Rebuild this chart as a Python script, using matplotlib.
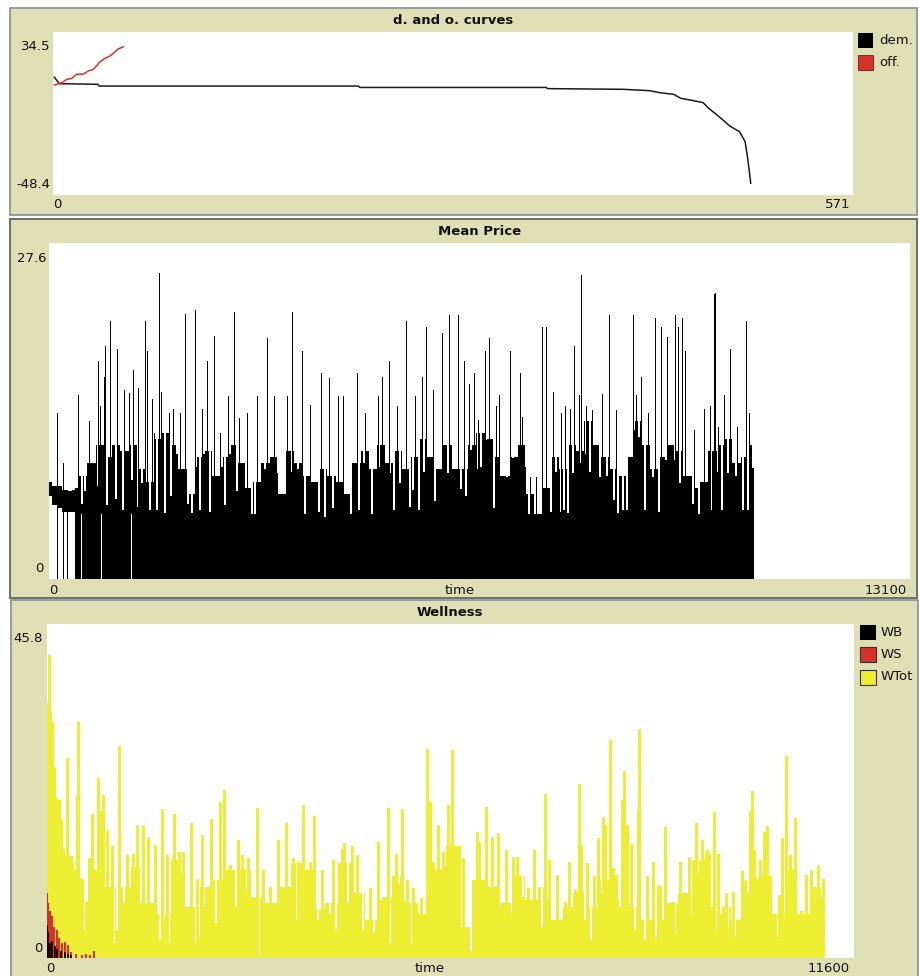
import numpy as np
import matplotlib
matplotlib.use("Agg")
import matplotlib.pyplot as plt
from matplotlib.patches import Rectangle

W, H = 920, 976
BEIGE = "#DFDFB6"
EDGE = "#8C8C8C"
RED = "#D73229"
YELLOW = "#EDED31"
PX = 0.72  # one pixel in points at 100 dpi

# ---- d. and o. curves ----
dem_x = [1, 4.5, 32, 33, 218, 219, 352, 353, 407, 426, 433, 443, 448, 457, 464, 468, 476, 483, 490, 494, 496, 498]
dem_y = [11.5, 8.2, 7.9, 7.0, 7.0, 6.3, 6.3, 5.7, 5.35, 4.65, 3.65, 2.8, 0.8, -0.4, -1.4, -4.3, -8.9, -13.3, -16.2, -21.3, -30.6, -42.4]
off_x = [1, 6.2, 9.8, 13.3, 16.9, 21.7, 25.2, 28.8, 31.2, 33.6, 37.1, 40.7, 44.3, 46.6, 50.2]
off_y = [7.5, 8.7, 10.4, 10.9, 13.0, 13.1, 14.7, 15.5, 17.4, 19.4, 21.1, 22.3, 24.5, 25.9, 27.0]

# ---- Mean Price ----
mp_early_t = [0, 15, 91, 167, 243, 320, 395]
mp_early_lo = [6.8, 6.8, 6.1, 5.8, 5.5, 5.5, 5.5]
mp_early_hi = [7.6, 8.0, 7.6, 7.6, 7.3, 7.2, 7.3]
mp_base = [7.5, 8.5, 9.5, 11, 10, 11, 10.5, 11, 9, 8, 11.5, 12, 11, 9, 7, 10, 10.5, 8.5, 10, 11,
           9.5, 7.5, 8, 9.5, 10, 7, 10.5, 9.5, 8.5, 8, 9, 8.5, 8, 7, 9.5, 10.5, 9, 11, 9.5, 10.5,
           9, 10, 11.5, 10, 9, 11, 9,
           9, 11, 12, 11.5, 10, 8.5, 10, 11, 7, 5.3, 7.5, 10, 9, 11, 10.5, 13, 11, 10, 9, 8.5,
           10, 13, 11, 9, 10, 11, 10.5, 8.5, 7.5, 8, 10.5, 11, 11.5, 9.5, 10, 11]
mp_base_t = np.linspace(395, 10724, len(mp_base))
mp_spike_t = [127, 218, 446, 608, 740, 776, 842, 852, 933, 1039, 1146, 1222, 1283, 1349, 1460, 1485,
              1562, 1597, 1678, 1709, 1830, 1881, 1993, 2069, 2216, 2322, 2398, 2510, 2601, 2718,
              2814, 2895, 3007, 3159, 3311, 3428, 3625, 3691, 3843, 3965, 4137, 4264, 4401, 4477,
              4690, 4807, 5004, 5070, 5171, 5298, 5430, 5562, 5668, 5734, 5835, 5972, 6079, 6226,
              6308, 6389, 6460, 6526, 6627, 6693, 6795, 6840, 7008, 7160, 7200, 7322, 7413, 7499,
              7565, 7667, 7793, 7844, 7920, 7991, 8057, 8092, 8163, 8265, 8417, 8518, 8630, 8883,
              8934, 9010, 9117, 9223, 9309, 9400, 9522, 9563, 9629, 9674, 9821, 9973, 10050,
              10115, 10136, 10181, 10267, 10354, 10470, 10607, 10658, 10709]
mp_spike_v = [13.6, 9.5, 15.1, 13.0, 17.9, 14.2, 16.6, 19.1, 21.2, 18.9, 15.5, 15.3, 17.2, 15.7, 21.2, 18.7,
              14.8, 12.0, 25.1, 15.4, 13.6, 14.0, 13.6, 21.8, 22.1, 14.0, 17.9, 20.0, 12.0, 15.0,
              21.9, 13.2, 13.6, 15.0, 19.8, 15.0, 15.0, 21.9, 18.7, 14.3, 16.9, 16.5, 15.0, 15.0,
              16.9, 13.6, 15.0, 16.6, 17.9, 14.2, 21.2, 15.0, 16.6, 20.7, 15.5, 20.2, 21.7, 21.7,
              17.9, 16.0, 16.9, 13.1, 18.7, 19.8, 14.2, 15.1, 18.7, 16.9, 13.3, 8.4, 8.4, 20.7,
              20.7, 15.4, 13.6, 14.2, 14.0, 19.1, 15.1, 25.0, 14.2, 13.9, 15.2, 21.7, 13.9, 21.7,
              15.1, 16.6, 13.6, 21.4, 20.7, 19.9, 21.7, 20.7, 21.4, 18.7, 12.2, 14.0, 14.2,
              23.4, 23.5, 12.5, 15.1, 18.9, 12.5, 21.2, 13.6, 9.1]
# white notches cut into the dense black area: time and depth reached
mp_gap_t = [507, 548, 750, 877, 1014, 1131, 1268, 1359, 1409, 1536, 1587, 1638, 1764, 1856, 1942,
            1993, 2119, 2170, 2231, 2297, 2363, 2449, 2525, 2626, 2677, 2753, 2854, 2930, 2981,
            3083, 3133, 3209, 3285, 3387, 3488, 3564,
            3590, 3699, 3785, 3902, 4023, 4105, 4206, 4318, 4368, 4419, 4495, 4596, 4713, 4799,
            4916, 5027, 5129, 5190, 5255, 5342, 5408, 5494, 5544, 5626, 5712, 5788, 5879, 5940,
            6067, 6117, 6269, 6346, 6422, 6523, 6574, 6650, 6776, 6883, 6964, 7055, 7131,
            7250, 7301, 7387, 7463, 7514, 7641, 7717, 7793, 7843, 7894, 7970, 8097, 8173, 8224,
            8325, 8376, 8487, 8604, 8655, 8731, 8792, 8908, 8984, 9075, 9187, 9288, 9390, 9517,
            9593, 9684, 9795, 9897, 9973, 10074, 10176, 10242, 10328, 10404, 10455, 10556, 10632, 10708]
mp_gap_v = [6.2, 7.2, 7.6, 6.1, 6.6, 5.7, 8.1, 5.9, 7.9, 5.7, 8.7, 5.7, 5.4, 6.8, 10.3,
            9.0, 6.2, 5.4, 9.2, 5.7, 10.3, 5.5, 9.0, 9.2, 6.1, 10.3, 7.2, 9.5, 12.0,
            5.3, 5.3, 9.2, 9.0, 11.7, 8.7, 7.2,
            7.3, 8.8, 9.0, 5.3, 8.5, 5.5, 5.1, 5.8, 9.5, 8.5, 10.3, 5.3, 5.7, 9.5,
            5.3, 9.2, 11.6, 8.7, 5.7, 7.9, 9.8, 5.9, 7.3, 5.7, 8.8, 11.4, 6.4, 11.1,
            8.7, 11.4, 7.4, 6.8, 10.6, 9.0, 9.2, 11.4, 5.8, 8.5, 8.4, 9.9, 11.4,
            9.2, 5.3, 5.7, 5.3, 8.5, 5.5, 8.8, 5.5, 5.7, 5.4, 8.7, 9.5, 10.3, 8.8,
            11.4, 8.4, 8.5, 6.5, 5.4, 5.7, 5.7, 12.2, 11.7, 5.7, 8.4, 5.5, 9.8, 9.8,
            7.9, 8.5, 6.2, 5.3, 9.2, 5.7, 8.8, 5.7, 8.7, 9.5, 8.5, 5.7, 5.7, 9.1]
mp_hole_t = [482, 613, 791, 1247]

# ---- Wellness ----
we_t = [0, 40, 80, 110, 140, 170, 200, 240, 280, 340, 400, 450]
we_hi = [34, 33, 30, 26, 22, 20, 17, 15, 14, 14, 12, 11]
we_lo = [9, 7, 5.5, 4.5, 3.5, 3, 2.3, 1.8, 1.4, 1.0, 0.5, 0]
wt_t = [450, 532, 723, 915, 1106, 1298, 1490, 1681, 1873, 2064, 2256, 2448, 2640, 2831, 3023,
        3215, 3406, 3598, 3740, 3899, 4090, 4282, 4473, 4665, 4857, 5048, 5240, 5431, 5623, 5815,
        6006, 6198, 6389, 6581, 6773, 6964, 7156, 7347, 7491, 7636, 7827, 8019, 8210, 8402, 8594,
        8785, 8977, 9168, 9360, 9552, 9743, 9935, 10126, 10318, 10510, 10701, 10893, 11084, 11170]
wt_v = [11, 8, 12, 9.8, 9.8, 12.5, 7.5, 6.1, 13.4, 7, 9.8, 10.7, 12, 12, 8.4,
        7.5, 9.8, 13, 12, 6.6, 7.5, 13, 8.9, 5.2, 8.4, 11.2, 7.5, 6.1, 12, 15.3,
        4.3, 10.7, 9.8, 7.5, 11.2, 8, 9.8, 5.2, 7, 8.9, 7, 10.7, 8, 7, 5.2,
        9.8, 7.5, 8.9, 13.4, 14.3, 7, 5.2, 10.7, 11.2, 6.1, 12, 6.1, 9.8, 8]
wspk_t = [29, 10, 43, 77, 105, 168, 196, 235, 287, 306, 354, 450, 436, 498, 608, 651, 728, 762, 810,
          857, 929, 1035, 1063, 1145, 1241, 1298, 1375, 1456, 1552, 1657, 1720, 1825, 1897, 1959,
          2064, 2151, 2223, 2357, 2486, 2543, 2630, 2740, 2807, 2893, 3013, 3109, 3205, 3324, 3434,
          3540, 3612, 3674, 3779, 3837, 3947, 4115, 4234, 4273, 4388, 4450, 4641, 4761, 4905, 5015,
          5097, 5168, 5264, 5374, 5456, 5504, 5552, 5624, 5686, 5767, 5825, 5887, 5925, 5973, 6136,
          6175, 6213, 6309, 6390, 6476, 6596, 6692, 6759, 6917, 6998, 7156, 7214, 7334, 7444, 7501,
          7588, 7645, 7683, 7755, 7861, 7923, 7985, 8019, 8086, 8138, 8186, 8268, 8287, 8340, 8388,
          8507, 8493, 8627, 8713, 8795, 8890, 9001, 9096, 9231, 9326, 9408, 9480, 9585, 9647, 9767,
          9863, 9983, 10040, 10103, 10141, 10165, 10246, 10304, 10352, 10399, 10519, 10572, 10620,
          10677, 10759, 10845, 10907, 10988, 11084, 11156]
wspk_v = [41.5, 34.9, 33.8, 32.4, 26.2, 21.6, 18.9, 14.8, 27.4, 13.7, 13.2, 32.3, 22.3, 10.9, 13.7, 19.8, 24.7, 20.1, 22.3,
          17.5, 15.3, 29.1, 9.6, 14.1, 14.3, 18.2, 18.1, 16.6, 15.5, 20.5, 14.1, 19.8, 14.6, 14.6,
          18.5, 10.9, 16.9, 19.1, 21.4, 23.1, 12.8, 16.2, 14.1, 13.7, 20.6, 12.1, 9.8, 16.2, 18.5,
          13.7, 13.2, 21.0, 13.2, 19.5, 12.1, 13.5, 15.0, 15.8, 15.4, 14.1, 9.6, 15.9, 20.6, 14.3,
          20.4, 10.7, 9.6, 8.2, 28.7, 21.4, 13.2, 18.2, 14.6, 21.0, 28.5, 15.3, 15.3, 13.7, 6.8,
          17.3, 15.9, 20.7, 16.6, 17.1, 14.8, 13.9, 13.9, 9.6, 14.8, 22.5, 13.4, 11.4, 7.7, 13.2,
          9.3, 23.9, 15.3, 13.0, 11.2, 16.4, 19.4, 18.2, 29.9, 12.3, 11.4, 21.7, 25.6, 18.2, 15.7,
          31.4, 20.3, 11.2, 13.2, 10.0, 18.0, 7.7, 13.2, 13.9, 18.5, 16.2, 14.8, 20.0, 14.3, 8.9,
          9.1, 11.9, 10.5, 20.1, 22.9, 14.8, 13.4, 17.3, 18.1, 11.2, 8.6, 16.4, 27.7,
          14.1, 19.2, 6.4, 11.4, 12.1, 12.8, 10.8]
wg_t = [460, 532, 580, 747, 963, 1001, 1106, 1250, 1346, 1394, 1624, 1681, 1753, 1825, 1945,
        2136, 2184, 2256, 2352, 2424, 2543, 2639, 2711, 2879, 3046, 3118, 3176, 3262, 3597,
        3779, 3899, 3994, 4066, 4148, 4234, 4330, 4402, 4473, 4545, 4617, 4703, 4799, 4928,
        5058, 5144, 5240, 5489, 5719, 5839, 5910, 6092, 6222, 6318, 6509, 6677, 6773, 6845,
        6916, 7012, 7118, 7204, 7276, 7347,
        7516, 7731, 7818, 7971, 8163, 8234, 8450, 8594, 8689, 8761, 8857, 8929, 9025, 9097,
        9264, 9360, 9432, 9552, 9623, 9695, 9791, 9887, 10079, 10174, 10270, 10414, 10510,
        10629, 10701, 10797, 10989, 11084]
wg_v = [10.7, 3.8, 7.7, 11.6, 2.0, 3.8, 7.5, 9.8, 7.5, 12.5, 2.5, 5.2, 2.0, 7.0, 11.6,
        2.0, 2.9, 7.0, 9.8, 4.8, 10.7, 8.0, 7.0, 9.3, 0.6, 3.4, 8.0, 8.4, 5.2,
        6.6, 5.2, 8.0, 6.1, 3.8, 10.2, 7.5, 11.2, 8.0, 3.8, 6.6, 3.4, 8.0, 2.0,
        10.2, 8.0, 2.0, 4.3, 12.5, 8.9, 13.0, 0.9, 9.8, 8.0, 7.0, 6.1, 5.7, 8.4,
        8.0, 8.4, 4.3, 8.0, 6.1, 3.4,
        2.9, 5.2, 2.5, 8.9, 5.2, 7.0, 3.8, 2.5, 6.6, 2.9, 5.2, 7.5, 3.4, 8.0,
        6.1, 11.6, 10.2, 7.0, 3.8, 6.1, 4.3, 2.9, 8.9, 6.1, 6.1, 2.7, 2.9,
        4.3, 8.4, 6.1, 3.8, 5.2]
ws_t = [5, 20, 40, 60, 77, 100, 139, 170, 220, 260, 302, 350, 420, 500, 560, 620, 675]
ws_v = [8.9, 7.5, 6.5, 5.5, 5.7, 4.2, 3.8, 2.8, 2.0, 2.2, 1.8, 0.8, 0.6, 0.4, 0.5, 0.4, 1.0]
wb_t = [5, 20, 45, 77, 110, 150, 200, 260, 300, 350]
wb_v = [4.5, 3.5, 2.0, 2.3, 1.6, 1.2, 0.9, 0.8, 0.6, 0.4]

fig = plt.figure(figsize=(W / 100, H / 100), dpi=100)
fig.patch.set_facecolor("white")


def frac(x0, y0, x1, y1):
    # pixel box (y measured from top) -> figure fraction
    return [x0 / W, 1 - y1 / H, (x1 - x0) / W, (y1 - y0) / H]


def rect(x0, y0, x1, y1, fc, ec="none", lw=0.0, z=0):
    l, b, w, h = frac(x0, y0, x1, y1)
    fig.add_artist(Rectangle((l, b), w, h, transform=fig.transFigure,
                             facecolor=fc, edgecolor=ec, lw=lw, zorder=z))


def txt(x, y, s, ha="left", bold=False, size=9.5):
    fig.text(x / W, 1 - y / H, s, ha=ha, va="center", fontsize=size,
             fontweight="bold" if bold else "normal", color="#111111",
             family="DejaVu Sans")


def plot_axes(box, xmax, ymin, ymax):
    ax = fig.add_axes(frac(*box))
    ax.set_xlim(0, xmax)
    ax.set_ylim(ymin, ymax)
    ax.set_facecolor("white")
    ax.set_xticks([])
    ax.set_yticks([])
    for s in ax.spines.values():
        s.set_visible(False)
    return ax


# panel backgrounds
rect(10, 8, 917, 215, BEIGE, EDGE, 1.2)
rect(10, 219, 917, 598, BEIGE, "#6E6E6E", 1.4)
rect(11, 600, 918, 980, BEIGE, EDGE, 1.2)

# ---- panel 1 ----
ax1 = plot_axes((53, 32, 853, 195), 571, -48.4, 34.5)
ax1.plot(dem_x, dem_y, color="#1A1A1A", lw=1.1)
ax1.plot(off_x, off_y, color=RED, lw=1.1)
txt(453, 20, "d. and o. curves", ha="center", bold=True)
txt(50, 47, "34.5", ha="right")
txt(50, 185, "-48.4", ha="right")
txt(53, 205, "0")
txt(850, 205, "571", ha="right")
rect(858, 33, 873, 48, "black")
rect(858, 55, 873, 70, RED, "#7A1A14", 0.6)
txt(879, 41, "dem.")
txt(879, 63, "off.")

# ---- panel 2 ----
ax2 = plot_axes((49, 243, 910, 579), 13100, 0, 27.6)
ax2.fill_between(mp_early_t, mp_early_lo, mp_early_hi, color="black", lw=0, step="mid")
ax2.vlines([269], 0, 5.6, colors="black", lw=PX, antialiased=False)
ax2.fill_between(mp_base_t, 0, mp_base, color="black", lw=0, step="mid")
ax2.vlines(mp_hole_t, 0, 5.3, colors="white", lw=PX, antialiased=False)
ax2.vlines(mp_gap_t, mp_gap_v, 27.6, colors="white", lw=2 * PX, antialiased=False)
ax2.vlines(mp_spike_t, 0, mp_spike_v, colors="black", lw=PX, antialiased=False)
txt(480, 232, "Mean Price", ha="center", bold=True)
txt(46, 258, "27.6", ha="right")
txt(44, 569, "0", ha="right")
txt(49, 590, "0")
txt(460, 590, "time", ha="center")
txt(907, 590, "13100", ha="right")

# ---- panel 3 ----
ax3 = plot_axes((47, 624, 854, 958), 11600, 0, 45.8)
ax3.fill_between(we_t, we_lo, we_hi, color=YELLOW, lw=0, step="mid")
ax3.fill_between(wt_t, 0, wt_v, color=YELLOW, lw=0, step="mid")
ax3.vlines(wg_t, wg_v, 45.8, colors="white", lw=2 * PX, antialiased=False)
ax3.vlines(wspk_t, 0, wspk_v, colors=YELLOW, lw=1.4 * PX, antialiased=False)
ax3.vlines(ws_t, 0, ws_v, colors=RED, lw=1.5)
ax3.vlines(wb_t, 0, wb_v, colors="black", lw=1.2)
txt(450, 613, "Wellness", ha="center", bold=True)
txt(43, 638, "45.8", ha="right")
txt(43, 948, "0", ha="right")
txt(46, 968, "0")
txt(430, 968, "time", ha="center")
txt(850, 968, "11600", ha="right")
rect(860, 625, 876, 640, "black")
rect(860, 647, 876, 662, RED, "#333333", 0.8)
rect(860, 670, 876, 685, YELLOW, "#333333", 0.8)
txt(881, 633, "WB")
txt(881, 655, "WS")
txt(881, 677, "WTot")

fig.savefig("out.png", dpi=100)
